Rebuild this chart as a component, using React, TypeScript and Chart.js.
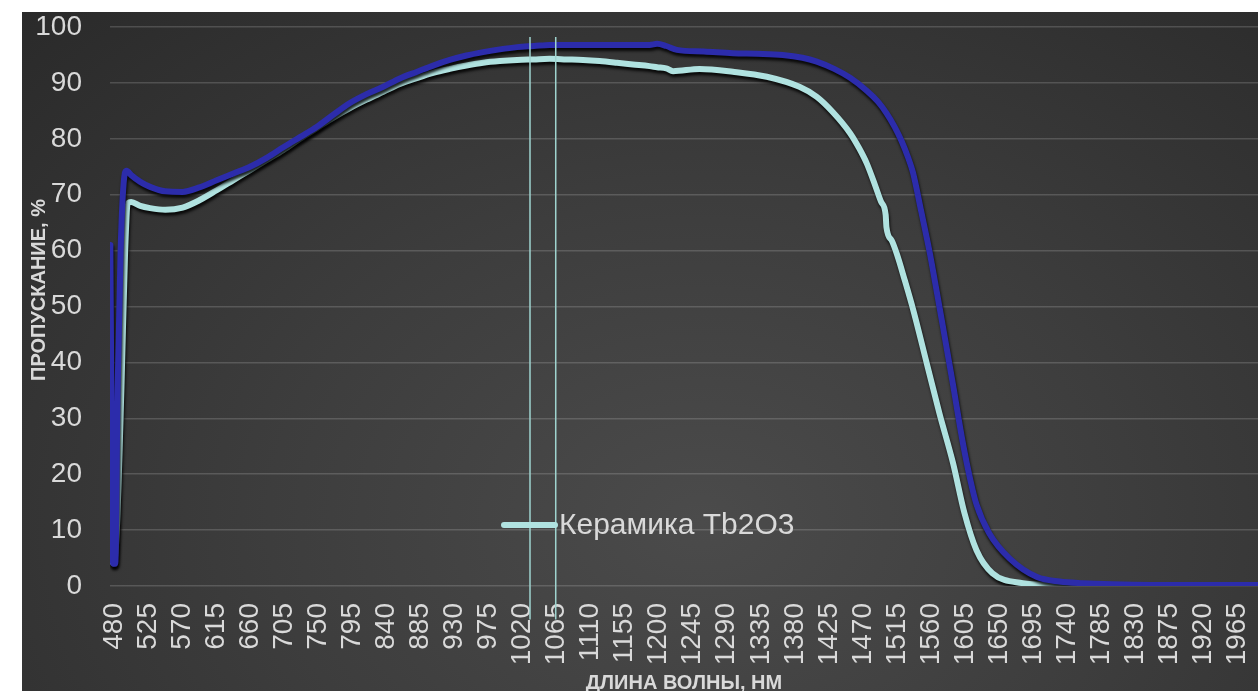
import React, { useEffect, useRef } from "react";
import { Chart, registerables } from "chart.js";

Chart.register(...registerables);

const FONT = "'Liberation Sans', Arial, sans-serif";

const xTicks: number[] = [480, 525, 570, 615, 660, 705, 750, 795, 840, 885, 930, 975, 1020, 1065, 1110, 1155, 1200, 1245, 1290, 1335, 1380, 1425, 1470, 1515, 1560, 1605, 1650, 1695, 1740, 1785, 1830, 1875, 1920, 1965];
const yTicks: number[] = [0, 10, 20, 30, 40, 50, 60, 70, 80, 90, 100];

const legendLabel = "Керамика Tb2O3";
const xTitle = "ДЛИНА ВОЛНЫ, НМ";
const yTitle = "ПРОПУСКАНИЕ, %";

// Series 1 (dark blue, not in legend)
const blueNm: number[] = [475.5, 477, 479, 482, 485, 489, 493, 497, 503, 515, 528, 548, 571, 593, 616, 638, 660, 682, 704, 726, 748, 770, 792, 814, 836, 858, 881, 902, 924, 946, 968, 990, 1013, 1035, 1056, 1100, 1145, 1188, 1198, 1210, 1224, 1260, 1298, 1330, 1364, 1390, 1409, 1432, 1453, 1475, 1490, 1501, 1512, 1521, 1530, 1536, 1547, 1558, 1566, 1575, 1589, 1602, 1612, 1620, 1637, 1664, 1700, 1730, 1760, 1800, 1850, 1900, 1950, 1992];
const blueT: number[] = [61, 30, 4, 4, 35, 60, 72, 74.3, 73.5, 72.3, 71.4, 70.6, 70.5, 71.3, 72.6, 73.8, 75.0, 76.6, 78.5, 80.3, 82.1, 84.3, 86.4, 88.0, 89.3, 90.8, 92.0, 93.1, 94.1, 94.9, 95.5, 96.0, 96.4, 96.6, 96.8, 96.8, 96.8, 96.8, 97.0, 96.6, 95.9, 95.6, 95.3, 95.2, 95.0, 94.5, 93.8, 92.5, 90.9, 88.6, 86.6, 84.6, 82.1, 79.6, 76.5, 74.0, 67.0, 59.8, 53.8, 46.9, 36.0, 25.6, 18.9, 14.6, 9.4, 4.9, 1.6, 0.8, 0.5, 0.3, 0.2, 0.2, 0.2, 0.2];

// Series 2 (Керамика Tb2O3, light teal)
const tealNm: number[] = [475.5, 477, 480, 484, 490, 495, 499, 503, 515, 528, 548, 571, 593, 616, 638, 660, 682, 704, 726, 748, 770, 792, 814, 836, 858, 881, 902, 924, 946, 968, 990, 1013, 1035, 1056, 1078, 1100, 1122, 1145, 1166, 1188, 1198, 1210, 1219, 1254, 1298, 1343, 1386, 1409, 1430, 1453, 1465, 1475, 1486, 1494, 1500, 1501, 1508, 1515, 1525, 1536, 1554, 1571, 1589, 1604, 1620, 1641, 1681, 1717, 1800, 1900, 1992];
const tealT: number[] = [16, 5, 4, 10, 35, 60, 68.5, 68.7, 68.0, 67.6, 67.3, 67.7, 69.0, 70.8, 72.6, 74.4, 76.2, 78.0, 80.0, 81.9, 83.8, 85.5, 87.0, 88.4, 89.8, 90.9, 91.8, 92.5, 93.1, 93.6, 93.9, 94.1, 94.2, 94.3, 94.2, 94.1, 93.9, 93.6, 93.3, 93.0, 92.8, 92.6, 92.1, 92.5, 92.0, 91.1, 89.3, 87.5, 84.8, 81.0, 78.3, 75.6, 71.7, 68.7, 66.4, 64.2, 61.8, 59.3, 54.8, 49.6, 40.0, 30.9, 22.0, 13.1, 6.4, 2.3, 0.5, 0.2, 0.1, 0.1, 0.1];

// Marker lines (laser wavelengths)
const markerNm: number[] = [1030, 1064];
const markerRange: number[] = [98.2, -6];

const BLUE = "#2c2cab";
const TEAL = "#b0e2e0";
const MARK = "#9fd4cf";
const TEXT = "#d9d9d9";

const shadowPlugin = {
  id: "lineShadow",
  beforeDatasetDraw(chart: any, args: any) {
    if (args.index >= 2) {
      const ctx = chart.ctx;
      ctx.save();
      ctx.shadowColor = "rgba(0,0,0,0.85)";
      ctx.shadowBlur = 3;
      ctx.shadowOffsetX = 1;
      ctx.shadowOffsetY = 3;
    }
  },
  afterDatasetDraw(chart: any, args: any) {
    if (args.index >= 2) chart.ctx.restore();
  },
};

const textPlugin = {
  id: "innerLegendAndTitle",
  afterDraw(chart: any) {
    const ctx = chart.ctx;
    const a = chart.chartArea;
    // legend inside the plot
    const y = a.top + 498;
    const x0 = a.left + 394;
    ctx.save();
    ctx.strokeStyle = TEAL;
    ctx.lineWidth = 6;
    ctx.lineCap = "round";
    ctx.beginPath();
    ctx.moveTo(x0, y);
    ctx.lineTo(x0 + 51, y);
    ctx.stroke();
    ctx.fillStyle = TEXT;
    ctx.font = `30px ${FONT}`;
    ctx.textBaseline = "middle";
    ctx.textAlign = "left";
    ctx.fillText(legendLabel, x0 + 55, y + 1);
    // y-axis title
    ctx.translate(17, a.top + 263);
    ctx.rotate(-Math.PI / 2);
    ctx.font = `bold 20px ${FONT}`;
    ctx.textAlign = "center";
    ctx.fillText(yTitle, 0, 0);
    ctx.restore();
  },
};

export default function App() {
  const ref = useRef<HTMLCanvasElement | null>(null);

  useEffect(() => {
    if (!ref.current) return;
    const markerSets = markerNm.map((nm) => ({
      label: "m" + nm,
      data: markerRange.map((v) => ({ x: nm, y: v })),
      borderColor: MARK,
      borderWidth: 1.5,
      pointRadius: 0,
      clip: false as any,
      tension: 0,
    }));
    const chart = new Chart(ref.current, {
      type: "line",
      data: {
        datasets: [
          ...markerSets,
          {
            label: "Series1",
            data: blueNm.map((x, i) => ({ x, y: blueT[i] })),
            borderColor: BLUE,
            borderWidth: 6,
            pointRadius: 0,
            cubicInterpolationMode: "monotone",
            borderJoinStyle: "round",
            borderCapStyle: "round",
          },
          {
            label: legendLabel,
            data: tealNm.map((x, i) => ({ x, y: tealT[i] })),
            borderColor: TEAL,
            borderWidth: 6,
            pointRadius: 0,
            cubicInterpolationMode: "monotone",
            borderJoinStyle: "round",
            borderCapStyle: "round",
          },
        ] as any,
      },
      options: {
        animation: false,
        responsive: true,
        maintainAspectRatio: false,
        events: [],
        layout: { padding: { top: 15, left: 0, right: 0, bottom: 0 } },
        plugins: {
          legend: { display: false },
          tooltip: { enabled: false },
        },
        scales: {
          x: {
            type: "linear",
            min: 475,
            max: 1992,
            grid: { display: false, drawTicks: false },
            border: { display: false },
            afterBuildTicks: (s: any) => {
              s.ticks = xTicks.map((v) => ({ value: v }));
            },
            afterFit: (s: any) => {
              s.height = 105;
              s.paddingLeft = 0;
              s.paddingRight = 0;
            },
            ticks: {
              autoSkip: false,
              minRotation: 90,
              maxRotation: 90,
              padding: 17,
              color: TEXT,
              font: { family: FONT, size: 28 },
              callback: (v: any) => String(v),
            },
            title: {
              display: true,
              text: xTitle,
              color: TEXT,
              font: { family: FONT, size: 20, weight: "bold" },
              padding: { top: 0, bottom: -4 },
            },
          },
          y: {
            min: 0,
            max: 100,
            grid: { color: "rgba(255,255,255,0.16)", lineWidth: 1.5, drawTicks: false },
            border: { display: false },
            afterBuildTicks: (s: any) => {
              s.ticks = yTicks.map((v) => ({ value: v }));
            },
            afterFit: (s: any) => {
              s.width = 88;
              s.paddingTop = 0;
              s.paddingBottom = 0;
            },
            ticks: {
              padding: 28,
              color: TEXT,
              font: { family: FONT, size: 28 },
            },
            title: { display: false },
          },
        },
      },
      plugins: [shadowPlugin, textPlugin],
    });
    return () => chart.destroy();
  }, []);

  return (
    <div
      style={{
        position: "absolute",
        left: 22,
        top: 12,
        width: 1236,
        height: 679,
        background:
          "radial-gradient(ellipse at 55% 75%, #4b4b4b 0%, #3d3d3d 45%, #2a2a2a 100%)",
      }}
    >
      <canvas ref={ref} />
    </div>
  );
}
